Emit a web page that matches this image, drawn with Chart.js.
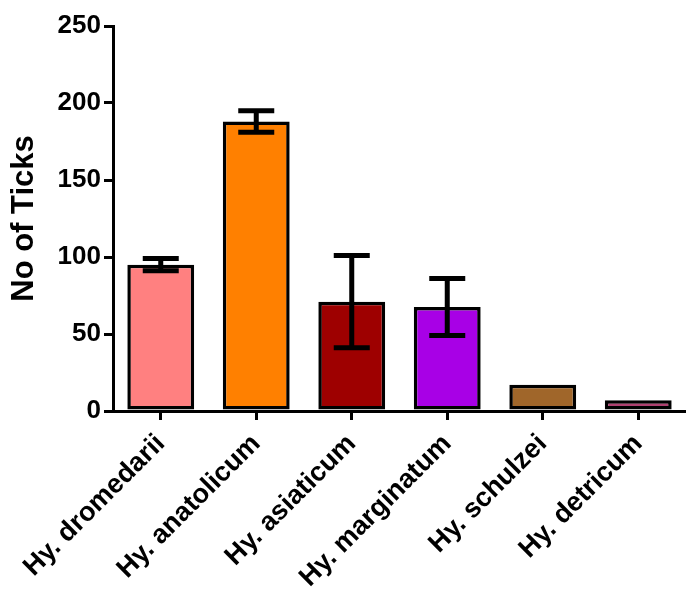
<!DOCTYPE html>
<html>
<head>
<meta charset="utf-8">
<script src="https://cdn.jsdelivr.net/npm/chart.js@4"></script>
<style>
  html, body { margin: 0; padding: 0; background: #fff; }
  #wrap { width: 686px; height: 609px; }
</style>
</head>
<body>
<div id="wrap"><canvas id="tickChart" width="686" height="609"></canvas></div>
<script>
const species = ["Hy. dromedarii", "Hy. anatolicum", "Hy. asiaticum", "Hy. marginatum", "Hy. schulzei", "Hy. detricum"];
const tickCounts = [95, 188, 71, 67.5, 17, 7];
const tickErrors = [4, 7, 30, 18.5, 0, 0];
const barColors = ["#ff8080", "#ff8000", "#9e0000", "#a800e6", "#a0662a", "#b04070"];
const yTicks = [0, 50, 100, 150, 200, 250];

// draws error bars through the y scale
const errorBars = {
  id: "errorBars",
  afterDatasetsDraw(chart) {
    const ctx = chart.ctx;
    const y = chart.scales.y;
    const meta = chart.getDatasetMeta(0);
    ctx.save();
    ctx.strokeStyle = "#000";
    ctx.lineWidth = 5;
    meta.data.forEach((bar, i) => {
      const err = tickErrors[i];
      if (!err) return;
      const top = y.getPixelForValue(tickCounts[i] + err);
      const bot = y.getPixelForValue(tickCounts[i] - err);
      const half = 18;
      ctx.beginPath();
      ctx.moveTo(bar.x, top);
      ctx.lineTo(bar.x, bot);
      ctx.moveTo(bar.x - half, top);
      ctx.lineTo(bar.x + half, top);
      ctx.moveTo(bar.x - half, bot);
      ctx.lineTo(bar.x + half, bot);
      ctx.stroke();
    });
    ctx.restore();
  }
};

const ctx = document.getElementById("tickChart").getContext("2d");
new Chart(ctx, {
  type: "bar",
  data: {
    labels: species,
    datasets: [{
      data: tickCounts,
      backgroundColor: barColors,
      borderColor: "#000",
      borderWidth: 3.5,
      borderSkipped: false,
      categoryPercentage: 1,
      barPercentage: 0.7
    }]
  },
  options: {
    responsive: false,
    animation: false,
    layout: { padding: { top: 26, right: 0, left: 0, bottom: 0 } },
    plugins: {
      legend: { display: false },
      tooltip: { enabled: false }
    },
    scales: {
      x: {
        afterFit: (s) => { s.height = 198; },
        grid: { offset: false, drawOnChartArea: false, color: "#000", lineWidth: 3, tickLength: 9 },
        border: { color: "#000", width: 3 },
        ticks: {
          color: "#000",
          maxRotation: 45,
          minRotation: 45,
          padding: 8,
          font: { family: "Liberation Sans, Arial", size: 27, weight: "bold" }
        }
      },
      y: {
        min: 0,
        max: 250,
        afterFit: (s) => { s.width = 113; },
        afterBuildTicks: (s) => { s.ticks = yTicks.map((v) => ({ value: v })); },
        grid: { drawOnChartArea: false, color: "#000", lineWidth: 3, tickLength: 9 },
        border: { color: "#000", width: 3 },
        ticks: {
          color: "#000",
          padding: 3,
          font: { family: "Liberation Sans, Arial", size: 26, weight: "bold" }
        },
        title: {
          display: true,
          text: "No of Ticks",
          color: "#000",
          padding: { top: 6, bottom: 4 },
          font: { family: "Liberation Sans, Arial", size: 31, weight: "bold" }
        }
      }
    }
  },
  plugins: [errorBars]
});
</script>
</body>
</html>
